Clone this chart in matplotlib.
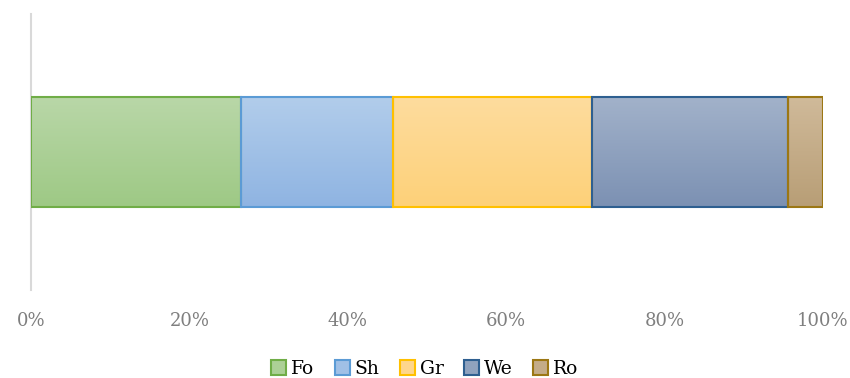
import matplotlib.pyplot as plt
import matplotlib.colors as mcolors
import numpy as np
from matplotlib.patches import Patch

categories = ["Fo", "Sh", "Gr", "We", "Ro"]
shares = [26.5, 19.2, 25.1, 24.8, 4.4]

top_colors = ["#b9d7a8", "#b2cdeb", "#fedc9e", "#a2b2ca", "#d0ba9a"]
bottom_colors = ["#9ec985", "#8fb4e2", "#fdd179", "#7c91b3", "#b89e76"]
edge_colors = ["#70ad47", "#5b9bd5", "#ffc000", "#2e5f90", "#9c7714"]

plt.rcParams["font.family"] = ["DejaVu Serif"]

fig = plt.figure(figsize=(8.5, 3.78), dpi=100)
ax = fig.add_axes([31 / 850, 1 - 290 / 378, 792 / 850, 276 / 378])

left = 0
for name, val, c1, c2, ec in zip(categories, shares, top_colors, bottom_colors, edge_colors):
    bar = ax.barh(0, val, left=left, height=0.4, color="none",
                  edgecolor=ec, linewidth=1.5, zorder=3)[0]
    cmap = mcolors.LinearSegmentedColormap.from_list(name, [c1, c2])
    grad = np.linspace(0, 1, 100).reshape(-1, 1)
    img = ax.imshow(grad, cmap=cmap, aspect="auto", zorder=2,
                    extent=[left, left + val, -0.2, 0.2], origin="upper")
    img.set_clip_path(bar)
    left += val

ax.set_xlim(0, 100)
ax.set_ylim(-0.5, 0.5)
ax.set_xticks(np.arange(0, 101, 20))
ax.set_xticklabels([f"{t}%" for t in range(0, 101, 20)])
ax.tick_params(axis="x", length=0, pad=16, labelsize=13, labelcolor="#7f7f7f")
ax.set_yticks([])
for s in ["top", "right", "bottom"]:
    ax.spines[s].set_visible(False)
ax.spines["left"].set_color("#d9d9d9")
ax.spines["left"].set_linewidth(1.5)

handles = [Patch(facecolor=mcolors.to_hex(np.mean([mcolors.to_rgb(a), mcolors.to_rgb(b)], axis=0)),
                 edgecolor=ec, linewidth=1.5, label=name)
           for name, a, b, ec in zip(categories, top_colors, bottom_colors, edge_colors)]
fig.legend(handles=handles, loc="lower center", bbox_to_anchor=(0.5, -0.045), ncol=5,
           frameon=False, fontsize=13.5, handlelength=0.8, handleheight=0.8,
           handletextpad=0.25, columnspacing=1.1)

fig.savefig("out.png", dpi=100)
